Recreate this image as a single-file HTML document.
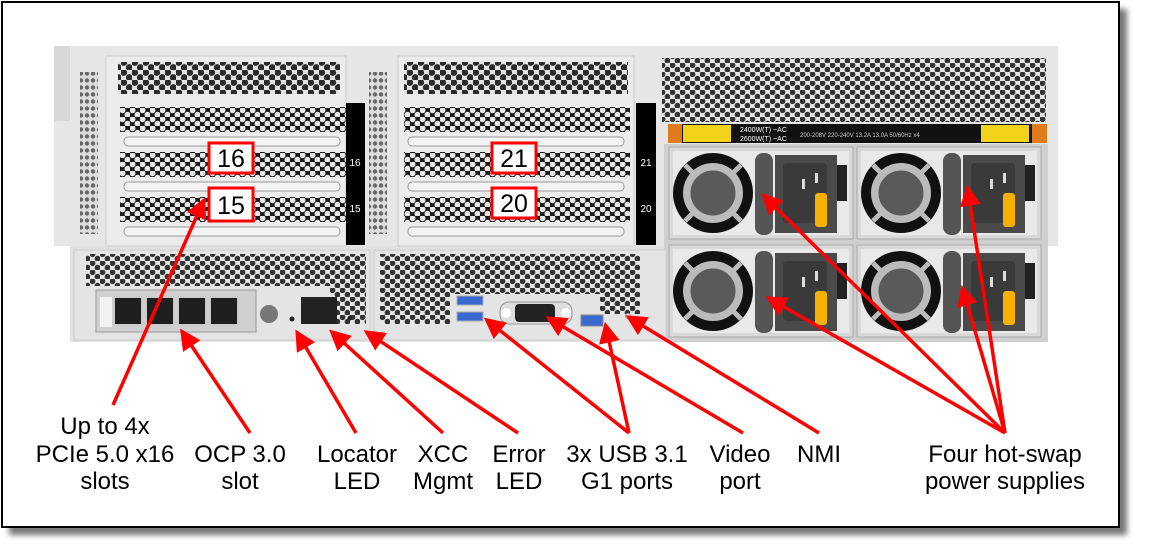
<!DOCTYPE html>
<html><head><meta charset="utf-8"><style>
html,body{margin:0;padding:0;background:#fff;}
svg{display:block;}
text{font-family:"Liberation Sans",Arial,sans-serif;}
</style></head><body>
<svg width="1150" height="558" viewBox="0 0 1150 558" xmlns="http://www.w3.org/2000/svg">
<defs>
<pattern id="hex" width="11" height="10" patternUnits="userSpaceOnUse">
<rect width="11" height="10" fill="#e4e4e4"/>
<circle cx="2.75" cy="2.5" r="3.4" fill="#2a2a2a"/>
<circle cx="8.25" cy="7.5" r="3.4" fill="#2a2a2a"/>
</pattern>
<pattern id="hexs" width="10" height="9" patternUnits="userSpaceOnUse">
<rect width="10" height="9" fill="#e6e6e6"/>
<circle cx="2.5" cy="2.2" r="2.9" fill="#333"/>
<circle cx="7.5" cy="6.7" r="2.9" fill="#333"/>
</pattern>
<pattern id="hexd" width="10" height="9" patternUnits="userSpaceOnUse">
<rect width="10" height="9" fill="#1a1a1a"/>
<circle cx="2.5" cy="2.2" r="3" fill="#e8e8e8"/>
<circle cx="7.5" cy="6.7" r="3" fill="#e8e8e8"/>
</pattern>
<pattern id="vs" width="6" height="7" patternUnits="userSpaceOnUse">
<rect width="6" height="7" fill="#ddd"/>
<circle cx="3" cy="3.5" r="2.2" fill="#666"/>
</pattern>
<filter id="sh" x="-5%" y="-5%" width="110%" height="115%"><feGaussianBlur stdDeviation="3"/></filter>
<marker id="ah" markerWidth="6" markerHeight="6" refX="4.5" refY="3" orient="auto" markerUnits="strokeWidth">
<path d="M0,0 L6,3 L0,6 z" fill="#ff0000"/>
</marker>
<g id="psu">
<rect x="0" y="0" width="184" height="92" fill="#d9d9d9" stroke="#aaa"/>
<rect x="4" y="4" width="176" height="84" fill="#e9e9e9"/>
<circle cx="44" cy="46" r="40" fill="#111"/>
<circle cx="44" cy="46" r="30" fill="#bbb"/>
<circle cx="44" cy="46" r="24" fill="#5a5a5a"/>
<g stroke="#bbb" stroke-width="5"><line x1="16" y1="18" x2="72" y2="74"/><line x1="72" y1="18" x2="16" y2="74"/></g>
<circle cx="44" cy="46" r="24" fill="#5a5a5a" stroke="#bbb" stroke-width="3"/>
<rect x="86" y="6" width="18" height="82" rx="8" fill="#555"/>
<rect x="106" y="8" width="62" height="78" fill="#4a4a4a"/>
<rect x="114" y="16" width="44" height="60" rx="4" fill="#3a3a3a"/>
<rect x="133" y="32" width="3" height="10" fill="#ddd"/><rect x="146" y="26" width="3" height="10" fill="#ddd"/><rect x="146" y="50" width="3" height="10" fill="#ddd"/>
<rect x="168" y="18" width="10" height="36" fill="#222"/>
<rect x="146" y="46" width="12" height="34" rx="3" fill="#f5b000"/>
</g>
</defs>

<rect x="9" y="9" width="1118" height="526" fill="#777" filter="url(#sh)"/>
<rect x="2" y="2" width="1117" height="525" fill="#fff" stroke="#000" stroke-width="2"/>

<rect x="54" y="46" width="1004" height="200" fill="#e6e6e6"/>
<rect x="54" y="46" width="16" height="75" fill="#d8d8d8"/>
<rect x="70" y="246" width="600" height="96" fill="#e2e2e2"/>
<rect x="80" y="72" width="18" height="162" fill="url(#vs)"/>
<rect x="369" y="72" width="18" height="162" fill="url(#vs)"/>
<rect x="106" y="56" width="240" height="190" fill="#ececec" stroke="#ccc"/>
<rect x="118" y="62" width="222" height="32" fill="url(#hex)"/>
<rect x="120" y="107" width="226" height="25" fill="url(#hexd)"/>
<rect x="120" y="152" width="226" height="25" fill="url(#hexd)"/>
<rect x="120" y="197" width="226" height="25" fill="url(#hexd)"/>
<rect x="124" y="137" width="216" height="9" rx="4" fill="#f4f4f4" stroke="#999"/>
<rect x="124" y="182" width="216" height="9" rx="4" fill="#f4f4f4" stroke="#999"/>
<rect x="124" y="227" width="216" height="9" rx="4" fill="#f4f4f4" stroke="#999"/>
<rect x="346" y="103" width="19" height="142" fill="#000"/>
<text x="355" y="166" font-size="10" fill="#fff" text-anchor="middle">16</text>
<text x="355" y="212" font-size="10" fill="#fff" text-anchor="middle">15</text>
<rect x="398" y="56" width="236" height="190" fill="#ececec" stroke="#ccc"/>
<rect x="404" y="62" width="224" height="32" fill="url(#hex)"/>
<rect x="404" y="107" width="226" height="25" fill="url(#hexd)"/>
<rect x="404" y="152" width="226" height="25" fill="url(#hexd)"/>
<rect x="404" y="197" width="226" height="25" fill="url(#hexd)"/>
<rect x="408" y="137" width="216" height="9" rx="4" fill="#f4f4f4" stroke="#999"/>
<rect x="408" y="182" width="216" height="9" rx="4" fill="#f4f4f4" stroke="#999"/>
<rect x="408" y="227" width="216" height="9" rx="4" fill="#f4f4f4" stroke="#999"/>
<rect x="636" y="103" width="20" height="142" fill="#000"/>
<text x="646" y="166" font-size="10" fill="#fff" text-anchor="middle">21</text>
<text x="646" y="212" font-size="10" fill="#fff" text-anchor="middle">20</text>
<rect x="662" y="58" width="384" height="64" fill="url(#hexs)"/>
<rect x="668" y="124" width="379" height="19" fill="#111"/>
<rect x="668" y="124" width="14" height="19" fill="#e07b1a"/>
<rect x="683" y="125" width="48" height="17" fill="#f3d21a"/>
<rect x="981" y="125" width="48" height="17" fill="#f3d21a"/>
<rect x="1032" y="124" width="15" height="19" fill="#e07b1a"/>
<text x="740" y="132" font-size="7" fill="#fff">2400W(T) ~AC</text>
<text x="740" y="141" font-size="7" fill="#fff">2600W(T) ~AC</text>
<text x="800" y="137" font-size="6" fill="#ccc">200-208V 220-240V  13.2A 13.0A  50/60Hz x4</text>
<rect x="664" y="144" width="384" height="198" fill="#cfcfcf"/>
<use href="#psu" x="669" y="147"/>
<use href="#psu" x="857" y="147"/>
<use href="#psu" x="669" y="245"/>
<use href="#psu" x="857" y="245"/>
<rect x="74" y="250" width="296" height="90" fill="#e4e4e4" stroke="#ccc"/>
<rect x="86" y="254" width="244" height="32" fill="url(#hexs)"/>
<rect x="330" y="254" width="36" height="70" fill="url(#hexs)"/>
<rect x="96" y="290" width="160" height="42" fill="#d0d0d0" stroke="#999"/>
<rect x="100" y="297" width="12" height="30" fill="#f2f2f2"/>
<rect x="114" y="297" width="28" height="28" fill="#1e1e1e" stroke="#ccc" stroke-width="2"/>
<rect x="146" y="297" width="28" height="28" fill="#1e1e1e" stroke="#ccc" stroke-width="2"/>
<rect x="178" y="297" width="28" height="28" fill="#1e1e1e" stroke="#ccc" stroke-width="2"/>
<rect x="210" y="297" width="28" height="28" fill="#1e1e1e" stroke="#ccc" stroke-width="2"/>
<circle cx="269" cy="314" r="9" fill="#777"/>
<circle cx="292" cy="319" r="2.5" fill="#222"/>
<rect x="301" y="297" width="36" height="27" fill="#222"/>
<circle cx="350" cy="318" r="2.5" fill="#222"/>
<rect x="374" y="250" width="292" height="90" fill="#e4e4e4" stroke="#ccc"/>
<rect x="380" y="254" width="70" height="70" fill="url(#hexs)"/>
<rect x="450" y="254" width="150" height="40" fill="url(#hexs)"/>
<rect x="600" y="254" width="40" height="60" fill="url(#hexs)"/>
<rect x="457" y="296" width="26" height="9" fill="#3a6ad0" stroke="#aaa"/>
<rect x="457" y="312" width="26" height="9" fill="#3a6ad0" stroke="#aaa"/>
<rect x="500" y="302" width="72" height="22" rx="9" fill="#ddd" stroke="#999"/>
<rect x="515" y="304" width="40" height="18" rx="4" fill="#222"/>
<circle cx="506" cy="313" r="5" fill="#fff"/><circle cx="566" cy="313" r="5" fill="#fff"/>
<rect x="581" y="315" width="22" height="11" fill="#3a6ad0" stroke="#888"/>
<circle cx="628" cy="316" r="2.5" fill="#fff" stroke="#999"/>

<g font-size="25" text-anchor="middle" fill="#000">
<rect x="209" y="143" width="44" height="30" fill="#fff" stroke="#f00" stroke-width="3"/><text x="231" y="167">16</text>
<rect x="209" y="188" width="44" height="33" fill="#fff" stroke="#f00" stroke-width="3"/><text x="231" y="214">15</text>
<rect x="492" y="143" width="44" height="30" fill="#fff" stroke="#f00" stroke-width="3"/><text x="514" y="167">21</text>
<rect x="492" y="188" width="44" height="30" fill="#fff" stroke="#f00" stroke-width="3"/><text x="514" y="212">20</text>
</g>

<g stroke="#ff0000" stroke-width="3.5" fill="none" marker-end="url(#ah)">
<line x1="113" y1="405" x2="203" y2="202"/>
<line x1="250" y1="433" x2="183" y2="333"/>
<line x1="356" y1="433" x2="298" y2="334"/>
<line x1="443" y1="433" x2="333" y2="333"/>
<line x1="518" y1="433" x2="368" y2="333"/>
<line x1="629" y1="433" x2="488" y2="321"/>
<line x1="629" y1="433" x2="606" y2="327"/>
<line x1="743" y1="433" x2="550" y2="319"/>
<line x1="819" y1="433" x2="630" y2="318"/>
<line x1="1005" y1="433" x2="765" y2="197"/>
<line x1="1005" y1="433" x2="968" y2="190"/>
<line x1="1005" y1="433" x2="770" y2="299"/>
<line x1="1005" y1="433" x2="963" y2="290"/>
</g>

<g font-size="24" text-anchor="middle" fill="#000">
<text x="105" y="434">Up to 4x</text>
<text x="105" y="462">PCIe 5.0 x16</text>
<text x="105" y="489">slots</text>
<text x="240" y="462">OCP 3.0</text><text x="240" y="489">slot</text>
<text x="357" y="462">Locator</text><text x="357" y="489">LED</text>
<text x="443" y="462">XCC</text><text x="443" y="489">Mgmt</text>
<text x="519" y="462">Error</text><text x="519" y="489">LED</text>
<text x="627" y="462">3x USB 3.1</text><text x="627" y="489">G1 ports</text>
<text x="740" y="462">Video</text><text x="740" y="489">port</text>
<text x="819" y="462">NMI</text>
<text x="1005" y="462">Four hot-swap</text><text x="1005" y="489">power supplies</text>
</g>
</svg>
</body></html>
